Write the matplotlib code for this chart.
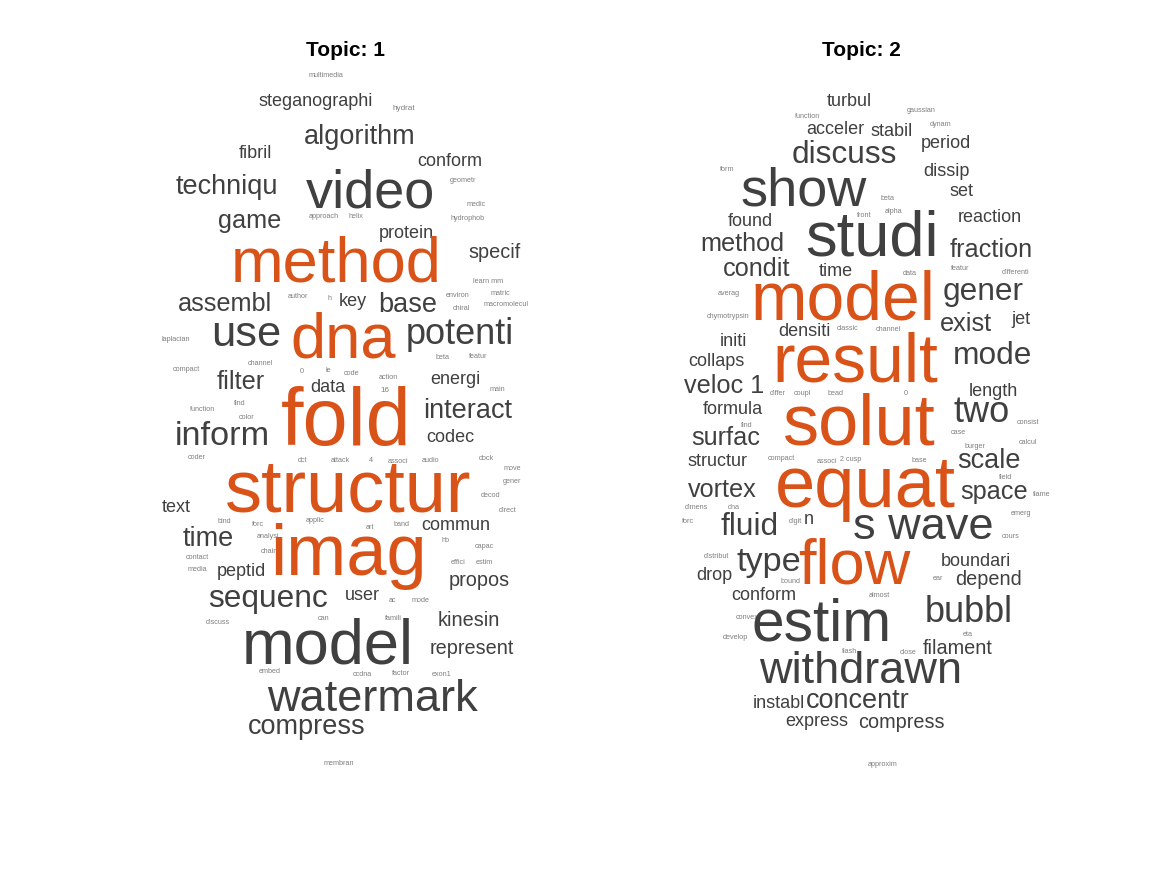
import matplotlib
matplotlib.use("Agg")
import matplotlib.pyplot as plt

# ---- data: word, weight (rendered em size in px) ----
words1 = ["multimedia","steganographi","hydrat","algorithm","fibril","conform","video","techniqu","geometr","medic",
          "game","approach","helix","hydrophob","protein","specif","method","learn mm","matric","macromolecul",
          "author","h","environ","chiral","assembl","key","base","use","dna","potenti",
          "laplacian","beta","featur","compact","channel","filter","0","le","code","action",
          "energi","data","16","main","find","function","color","fold","interact","inform",
          "codec","coder","dct","attack","4","associ","audio","dock","move","gener",
          "structur","text","decod","direct","bind","forc","applic","art","band","commun",
          "time","analysi","chain","hb","capac","contact","media","effici","estim","imag",
          "peptid","propos","sequenc","user","ac","mode","kinesin","discuss","can","famili",
          "model","represent","embed","ccdna","factor","exon1","watermark","compress","membran"]
weights1 = [8,20,9,30,20,20,60,30,8,8,
            28,8,8,8,20,22,70,8,8,8,
            8,8,8,8,28,20,30,48,70,40,
            8,8,8,8,8,28,8,8,8,8,
            20,20,9,8,8,8,8,90,30,38,
            20,8,8,8,8,8,8,8,8,8,
            82,20,8,8,8,8,8,8,8,20,
            30,8,8,8,8,8,8,8,8,80,
            20,22,35,20,8,8,22,8,8,8,
            70,22,8,8,8,8,50,30,8]
highlight1 = ["method","dna","fold","structur","imag"]

words2 = ["turbul","gaussian","dynam","function","acceler","stabil","period","discuss","dissip","form",
          "show","set","beta","alpha","front","found","reaction","studi","method","fraction",
          "condit","time","data","featur","differenti","model","averag","gener","chymotrypsin","jet",
          "exist","densiti","classic","channel","initi","mode","collaps","result","veloc 1","length",
          "differ","coupl","bead","0","formula","two","solut","find","case","consist",
          "calcul","surfac","burger","structur","compact","associ","2 cusp","base","scale","field",
          "equat","space","flame","vortex","dimens","dna","emerg","forc","fluid","digit",
          "n","s wave","cours","type","flow","distribut","boundari","drop","bound","depend",
          "ear","conform","almost","bubbl","convex","estim","develop","eta","flash","close",
          "filament","withdrawn","instabl","concentr","express","compress","approxim"]
weights2 = [20,8,8,8,20,20,20,35,20,8,
            60,20,8,8,8,20,20,70,28,28,
            28,20,8,8,8,75,8,35,8,20,
            28,20,8,8,20,35,20,75,28,20,
            8,8,8,8,20,40,80,8,8,8,
            8,28,8,20,8,8,8,8,30,8,
            80,28,8,28,8,8,8,8,35,8,
            20,50,8,38,70,8,20,20,8,22,
            8,20,8,40,8,65,8,8,8,8,
            22,50,20,30,20,22,8]
highlight2 = ["model","result","solut","equat","flow"]

# ---- layout (pixel centres of each word) ----
layout1 = [(326,75),(316,101),(404,108),(360,135),(255,152),(450,160),(370,190),(227,185),(463,180),(476,204),
           (250,220),(324,216),(356,216),(468,218),(406,232),(495,251),(336,262),(488,281),(500,293),(506,304),
           (298,296),(330,298),(458,295),(461,308),(225,303),(353,300),(408,303),(246,333),(343,338),(460,333),
           (176,339),(443,357),(478,356),(186,369),(260,363),(241,381),(302,371),(328,370),(352,373),(388,377),
           (455,378),(328,386),(385,390),(497,389),(240,403),(203,409),(247,417),(346,420),(468,409),(222,435),
           (450,437),(197,457),(303,460),(340,460),(371,460),(398,461),(431,460),(486,458),(512,468),(512,481),
           (348,488),(176,506),(491,495),(508,510),(224,521),(258,524),(315,520),(370,527),(402,524),(456,524),
           (208,538),(268,536),(269,551),(446,540),(484,546),(197,557),(197,569),(458,562),(484,562),(348,553),
           (241,571),(479,579),(268,597),(362,595),(393,600),(421,600),(469,619),(218,622),(324,618),(393,618),
           (328,643),(472,647),(270,671),(362,674),(401,673),(442,674),(372,697),(307,725),(339,763)]
layout2 = [(849,101),(921,110),(941,124),(808,116),(835,128),(892,130),(946,143),(844,153),(946,170),(727,169),
           (804,188),(961,191),(888,198),(894,211),(864,215),(750,220),(990,216),(872,236),(742,243),(991,249),
           (757,268),(836,271),(910,273),(960,268),(1016,272),(843,298),(729,293),(983,290),(728,316),(1021,319),
           (966,323),(804,331),(848,328),(888,329),(733,340),(993,354),(716,361),(855,360),(724,385),(993,390),
           (778,393),(802,393),(836,393),(906,393),(733,409),(982,410),(858,422),(747,425),(958,432),(1028,422),
           (1028,442),(726,437),(975,446),(718,460),(781,458),(827,461),(851,459),(919,460),(989,459),(1006,477),
           (865,485),(994,491),(1042,494),(722,489),(696,507),(734,507),(1021,513),(688,521),(750,525),(795,521),
           (809,519),(923,525),(1011,536),(769,561),(854,563),(716,556),(976,560),(714,575),(791,581),(989,578),
           (938,578),(764,595),(879,595),(969,610),(747,617),(822,622),(735,637),(968,634),(850,651),(908,652),
           (958,647),(861,669),(779,702),(858,699),(817,721),(901,721),(883,764)]

W, H = 1167, 875
fig = plt.figure(figsize=(W/100, H/100), dpi=100)
ax = fig.add_axes([0, 0, 1, 1])
ax.set_xlim(0, W); ax.set_ylim(H, 0); ax.axis("off")
FONT = ["Liberation Sans", "DejaVu Sans"]

def draw(words, weights, layout, hl):
    for w, s, (x, y) in zip(words, weights, layout):
        if w in hl:
            c = "#D95319"
        elif s >= 18:
            c = "#404040"
        else:
            c = "#808080"
        ax.text(x, y + s*0.05, w, fontsize=s*0.65, color=c, ha="center", va="center",
                family=FONT)

draw(words1, weights1, layout1, highlight1)
draw(words2, weights2, layout2, highlight2)
ax.text(346, 50, "Topic: 1", fontsize=15, fontweight="bold", ha="center", va="center", family=FONT)
ax.text(861, 50, "Topic: 2", fontsize=15, fontweight="bold", ha="center", va="center", family=FONT)
fig.savefig("out.png", dpi=100)
